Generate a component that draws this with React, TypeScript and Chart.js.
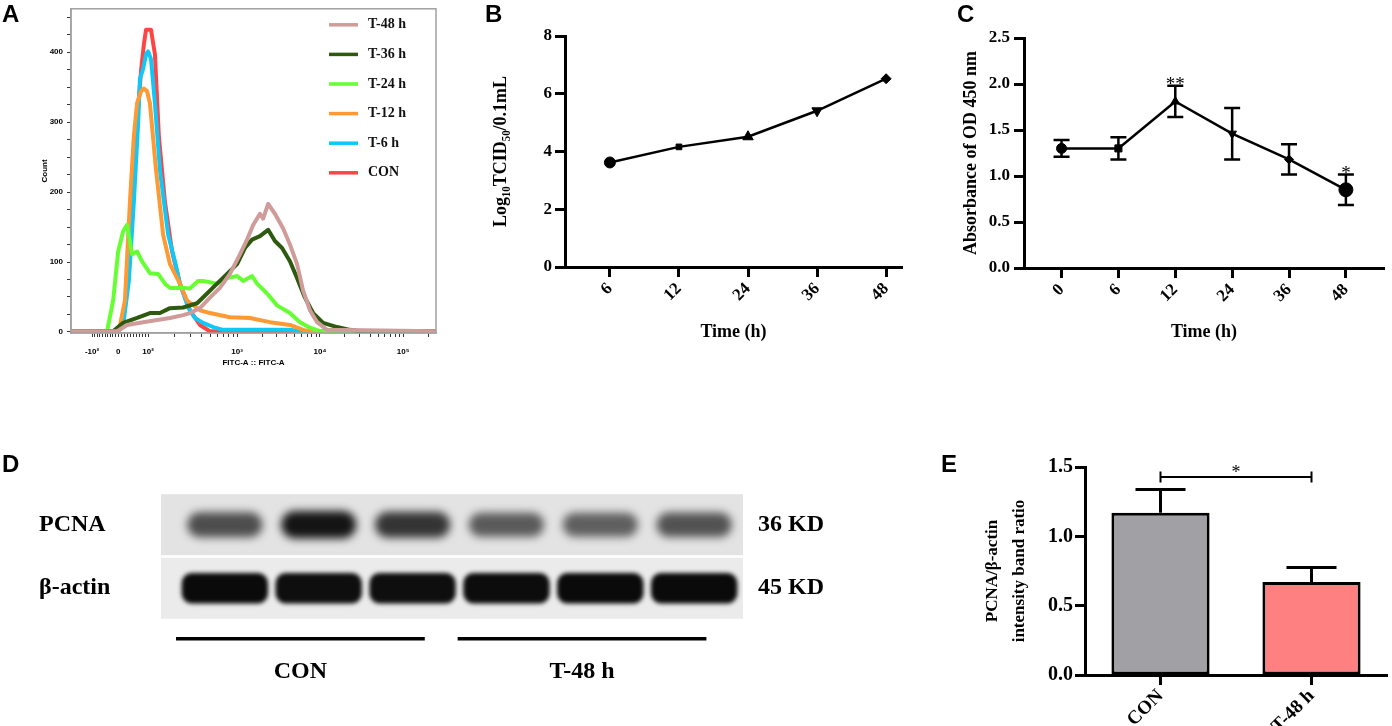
import React, { useEffect, useRef } from 'react';
import { Chart, registerables } from 'chart.js';

Chart.register(...registerables);

const serif = "'Liberation Serif', 'Times New Roman', serif";
const sans = "'Liberation Sans', Arial, sans-serif";

// ---------- A: FITC histogram (x in logicle display channels 0-1022)
const fitcTickChannels = [59, 132, 216, 465, 697, 930];
const fitcTickLabels = ['-10²', '0', '10²', '10³', '10⁴', '10⁵'];
const histLabels = ['T-48 h', 'T-36 h', 'T-24 h', 'T-12 h', 'T-6 h', 'CON'];
const histColors = ['#d09c9a', '#2e5a10', '#66ff33', '#ff9933', '#10c8f8', '#ff4444'];

const histT48 = [[0, 1], [129, 1], [157, 10], [202, 14], [241, 17], [277, 20], [314, 24], [333, 27], [361, 34], [389, 49], [417, 63], [445, 83], [473, 111], [493, 132], [510, 153], [529, 169], [538, 162], [552, 183], [571, 169], [594, 148], [613, 125], [633, 97], [650, 59], [669, 31], [689, 14], [717, 3], [1022, 1]];
const histT36 = [[0, 1], [118, 1], [146, 13], [185, 20], [221, 27], [249, 27], [277, 34], [314, 35], [353, 41], [381, 55], [409, 69], [437, 83], [465, 97], [487, 120], [507, 132], [529, 137], [552, 146], [571, 130], [591, 120], [613, 101], [633, 77], [655, 49], [678, 27], [706, 13], [745, 7], [781, 3], [809, 1], [1022, 1]];
const histT24 = [[0, 1], [101, 1], [118, 45], [132, 115], [146, 144], [157, 153], [171, 111], [185, 115], [199, 101], [221, 84], [244, 83], [263, 69], [277, 63], [314, 63], [333, 62], [356, 73], [370, 73], [409, 69], [437, 77], [465, 80], [482, 73], [507, 80], [521, 69], [549, 55], [577, 38], [613, 27], [641, 14], [669, 6], [697, 1], [1022, 1]];
const histT12 = [[0, 1], [134, 1], [151, 45], [165, 186], [176, 280], [185, 327], [196, 344], [204, 348], [213, 344], [221, 327], [238, 232], [258, 139], [277, 97], [305, 69], [325, 45], [361, 31], [389, 27], [445, 21], [501, 20], [557, 14], [613, 10], [650, 3], [669, 1], [1022, 1]];
const histT6 = [[0, 1], [132, 1], [148, 17], [162, 73], [176, 186], [188, 298], [193, 362], [202, 376], [210, 397], [216, 401], [224, 390], [235, 327], [249, 232], [272, 139], [291, 101], [305, 69], [328, 35], [347, 20], [370, 13], [403, 6], [426, 3], [613, 3], [641, 1], [1022, 1]];
const histCon = [[0, 1], [129, 1], [146, 17], [160, 73], [174, 186], [185, 298], [196, 373], [204, 411], [210, 432], [224, 432], [235, 397], [246, 280], [263, 186], [283, 115], [305, 69], [333, 31], [361, 10], [389, 1], [1022, 1]];

// ---------- B: virus titer
const timeB = ['6', '12', '24', '36', '48'];
const titerB = [3.62, 4.16, 4.51, 5.41, 6.52];

// ---------- C: CCK-8 absorbance
const timeC = ['0', '6', '12', '24', '36', '48'];
const odMean = [1.3, 1.3, 1.81, 1.46, 1.18, 0.85];
const odSd = [0.09, 0.12, 0.17, 0.28, 0.165, 0.165];
const odSig = ['', '', '**', '', '', '*'];

// ---------- D: western blot band densities
const laneGroups = ['CON', 'CON', 'CON', 'T-48 h', 'T-48 h', 'T-48 h'];
const pcnaDensity = [0.65, 0.95, 0.78, 0.58, 0.55, 0.62];
const actinDensity = [1, 0.98, 0.98, 0.99, 1, 1];
const blotRows = ['β-actin', 'PCNA'];
const blotWeights = ['45 KD', '36 KD'];

// ---------- E: PCNA / β-actin ratio
const groupsE = ['CON', 'T-48 h'];
const ratioMean = [1.17, 0.67];
const ratioSd = [0.167, 0.105];
const ratioSig = '*';

const bold = (size: number, family = serif) => ({ family, size, weight: 'bold' as const });

// minor ticks for the logicle axis
function fitcMinorTicks() {
  const out: number[] = [];
  const [cm, c0, c2] = [fitcTickChannels[0], fitcTickChannels[1], fitcTickChannels[2]];
  for (let v = -90; v <= 90; v += 10) {
    if (v === 0) continue;
    out.push(v < 0 ? c0 + (v / 100) * (c0 - cm) : c0 + (v / 100) * (c2 - c0));
  }
  const dec = fitcTickChannels.slice(2);
  for (let d = 0; d < dec.length; d++) {
    const span = d < dec.length - 1 ? dec[d + 1] - dec[d] : dec[d] - dec[d - 1];
    for (let m = 2; m <= 9; m++) {
      const c = dec[d] + Math.log10(m) * span;
      if (c < 1022) out.push(c);
    }
  }
  return out;
}

const framePlugin = {
  id: 'frame',
  afterDraw(chart: any) {
    const { ctx, chartArea: a } = chart;
    ctx.save();
    ctx.strokeStyle = '#a0a0a0';
    ctx.lineWidth = 1.5;
    ctx.strokeRect(a.left, a.top, a.right - a.left, a.bottom - a.top);
    ctx.restore();
  },
};

const histLegendPlugin = {
  id: 'histLegend',
  afterDraw(chart: any) {
    const { ctx, chartArea: a } = chart;
    ctx.save();
    chart.data.datasets.forEach((ds: any, i: number) => {
      const y = a.top + 16 + i * 29.6;
      ctx.strokeStyle = ds.borderColor;
      ctx.lineWidth = 3.5;
      ctx.beginPath();
      ctx.moveTo(a.left + 258, y);
      ctx.lineTo(a.left + 287, y);
      ctx.stroke();
      ctx.fillStyle = '#111';
      ctx.font = `bold 14px ${serif}`;
      ctx.textBaseline = 'middle';
      ctx.fillText(ds.label, a.left + 297, y);
    });
    ctx.restore();
  },
};

function histConfig() {
  const series = [histT48, histT36, histT24, histT12, histT6, histCon];
  const allTicks = [...fitcTickChannels, ...fitcMinorTicks()].sort((p, q) => p - q);
  return {
    type: 'line',
    data: {
      datasets: series.map((s, i) => ({
        label: histLabels[i],
        data: s.map(([x, y]) => ({ x, y })),
        borderColor: histColors[i],
        borderWidth: 4,
        pointRadius: 0,
        tension: 0,
        borderJoinStyle: 'round',
      })),
    },
    options: {
      responsive: false,
      animation: false,
      layout: { padding: { top: 4, right: 4, left: 0, bottom: 0 } },
      plugins: { legend: { display: false }, tooltip: { enabled: false } },
      scales: {
        x: {
          type: 'linear',
          min: 0,
          max: 1022,
          afterBuildTicks: (s: any) => { s.ticks = allTicks.map((v) => ({ value: v })); },
          afterFit: (s: any) => { s.height = 37; },
          ticks: {
            autoSkip: false,
            maxRotation: 0,
            padding: 10,
            color: '#000',
            font: bold(8, sans),
            callback: (v: number) => {
              const i = fitcTickChannels.indexOf(v);
              return i < 0 ? '' : fitcTickLabels[i];
            },
          },
          grid: { drawOnChartArea: false, tickLength: 4, color: '#333', tickWidth: 1 },
          border: { color: '#a0a0a0', width: 1.5 },
          title: { display: true, text: 'FITC-A :: FITC-A', color: '#000', font: bold(8, sans), padding: { top: 0, bottom: 2 } },
        },
        y: {
          min: -1.5,
          max: 462,
          afterBuildTicks: (s: any) => {
            const t = [];
            for (let v = 0; v <= 450; v += 25) t.push({ value: v });
            s.ticks = t;
          },
          afterFit: (s: any) => { s.width = 71; },
          ticks: {
            autoSkip: false,
            padding: 4,
            color: '#000',
            font: bold(8, sans),
            callback: (v: number) => (v % 100 === 0 ? String(v) : ''),
          },
          grid: { drawOnChartArea: false, tickLength: 4, color: '#333', tickWidth: 1 },
          border: { color: '#a0a0a0', width: 1.5 },
          title: { display: true, text: 'Count', color: '#000', font: bold(8, sans), padding: { top: 40, bottom: 0 } },
        },
      },
    },
    plugins: [framePlugin, histLegendPlugin],
  };
}

const blackAxis = (tickLen: number) => ({
  grid: { drawOnChartArea: false, tickLength: tickLen, tickWidth: 3, color: '#000' },
  border: { color: '#000', width: 3 },
});

function titerConfig() {
  return {
    type: 'line',
    data: {
      datasets: [{
        data: titerB.map((v, i) => ({ x: i, y: v })),
        borderColor: '#000',
        borderWidth: 2.5,
        pointStyle: ['circle', 'rect', 'triangle', 'triangle', 'rectRot'],
        pointRotation: [0, 0, 0, 180, 0],
        pointRadius: [5.5, 4, 6, 6, 5],
        pointBackgroundColor: '#000',
        pointBorderColor: '#000',
        pointBorderWidth: 1,
        tension: 0,
      }],
    },
    options: {
      responsive: false,
      animation: false,
      layout: { padding: { top: 36, right: 8, left: 0, bottom: 0 } },
      plugins: { legend: { display: false }, tooltip: { enabled: false } },
      scales: {
        x: {
          type: 'linear',
          min: -0.65,
          max: 4.23,
          afterBuildTicks: (s: any) => { s.ticks = timeB.map((_, i) => ({ value: i })); },
          afterFit: (s: any) => { s.height = 103; },
          ticks: { autoSkip: false, minRotation: 45, maxRotation: 45, padding: 2, color: '#000', font: bold(17), callback: (v: number) => timeB[v] },
          ...blackAxis(10),
          title: { display: true, text: 'Time (h)', color: '#000', font: bold(18), padding: { top: 0, bottom: 27 } },
        },
        y: {
          min: 0,
          max: 8,
          afterFit: (s: any) => { s.width = 125; },
          ticks: { stepSize: 2, padding: 3, color: '#000', font: bold(17) },
          ...blackAxis(10),
          title: { display: true, text: 'Log₁₀TCID₅₀/0.1mL', color: '#000', font: bold(18), padding: { top: 51, bottom: 0 } },
        },
      },
    },
  };
}

const odErrorPlugin = {
  id: 'odError',
  afterDatasetsDraw(chart: any) {
    const { ctx, scales: { x, y } } = chart;
    ctx.save();
    ctx.strokeStyle = '#000';
    ctx.lineWidth = 2.5;
    odMean.forEach((m, i) => {
      const px = x.getPixelForValue(i);
      const top = y.getPixelForValue(m + odSd[i]);
      const bot = y.getPixelForValue(m - odSd[i]);
      ctx.beginPath();
      ctx.moveTo(px, top); ctx.lineTo(px, bot);
      ctx.moveTo(px - 8, top); ctx.lineTo(px + 8, top);
      ctx.moveTo(px - 8, bot); ctx.lineTo(px + 8, bot);
      ctx.stroke();
      if (odSig[i]) {
        ctx.fillStyle = '#000';
        ctx.font = `19px ${serif}`;
        ctx.textAlign = 'center';
        ctx.textBaseline = 'alphabetic';
        ctx.fillText(odSig[i], px, top + 4);
      }
    });
    ctx.restore();
  },
};

function odConfig() {
  return {
    type: 'line',
    data: {
      datasets: [{
        data: odMean.map((v, i) => ({ x: i, y: v })),
        borderColor: '#000',
        borderWidth: 2.5,
        pointStyle: ['circle', 'rect', 'triangle', 'triangle', 'rectRot', 'circle'],
        pointRotation: [0, 0, 0, 180, 0, 0],
        pointRadius: [5, 5, 5, 5, 4.5, 7],
        pointBackgroundColor: '#000',
        pointBorderColor: '#000',
        pointBorderWidth: 1,
        tension: 0,
      }],
    },
    options: {
      responsive: false,
      animation: false,
      layout: { padding: { top: 38, right: 2, left: 0, bottom: 0 } },
      plugins: { legend: { display: false }, tooltip: { enabled: false } },
      scales: {
        x: {
          type: 'linear',
          min: -0.66,
          max: 5.67,
          afterBuildTicks: (s: any) => { s.ticks = timeC.map((_, i) => ({ value: i })); },
          afterFit: (s: any) => { s.height = 102; },
          ticks: { autoSkip: false, minRotation: 45, maxRotation: 45, padding: 2, color: '#000', font: bold(17), callback: (v: number) => timeC[v] },
          ...blackAxis(10),
          title: { display: true, text: 'Time (h)', color: '#000', font: bold(18), padding: { top: 0, bottom: 27 } },
        },
        y: {
          min: 0,
          max: 2.5,
          afterFit: (s: any) => { s.width = 104; },
          ticks: { stepSize: 0.5, padding: 4, color: '#000', font: bold(17), callback: (v: number) => v.toFixed(1) },
          ...blackAxis(10),
          title: { display: true, text: 'Absorbance of OD 450 nm', color: '#000', font: bold(18), padding: { top: 41, bottom: 0 } },
        },
      },
    },
    plugins: [odErrorPlugin],
  };
}

const bandGrey = (d: number) => {
  const g = Math.round(200 - 190 * d);
  return `rgb(${g},${g},${g})`;
};

const blotPlugin = {
  id: 'blot',
  beforeDatasetsDraw(chart: any) {
    const { ctx, chartArea: a, scales: { y } } = chart;
    ctx.save();
    blotRows.forEach((_, r) => {
      const t = y.getPixelForValue(r + 0.48);
      const b = y.getPixelForValue(r - 0.48);
      ctx.fillStyle = r === 1 ? '#e3e3e3' : '#ebebeb';
      ctx.fillRect(a.left, t, a.right - a.left, b - t);
    });
    ctx.restore();
  },
  beforeDatasetDraw(chart: any, args: any) {
    chart.ctx.save();
    chart.ctx.filter = args.index === 0 ? 'blur(4px)' : 'blur(2px)';
  },
  afterDatasetDraw(chart: any) {
    chart.ctx.restore();
  },
  afterDraw(chart: any) {
    const { ctx, chartArea: a, scales: { x } } = chart;
    ctx.save();
    let start = 0;
    for (let i = 1; i <= laneGroups.length; i++) {
      if (i === laneGroups.length || laneGroups[i] !== laneGroups[start]) {
        const x1 = x.getPixelForValue(start - 0.52);
        const x2 = x.getPixelForValue(i - 1 + 0.13);
        ctx.fillStyle = '#000';
        ctx.fillRect(x1, a.bottom + 17, x2 - x1, 3.5);
        ctx.font = `bold 24px ${serif}`;
        ctx.textAlign = 'center';
        ctx.textBaseline = 'middle';
        ctx.fillText(laneGroups[start], (x1 + x2) / 2, a.bottom + 52);
        start = i;
      }
    }
    ctx.restore();
  },
};

function blotConfig() {
  return {
    type: 'bar',
    data: {
      datasets: [
        {
          data: pcnaDensity.map((d, i) => ({ x: i, y: [1 - 0.15 - 0.07 * d, 1 + 0.15 + 0.07 * d] })),
          backgroundColor: pcnaDensity.map(bandGrey),
          grouped: false,
          barPercentage: 0.8,
          categoryPercentage: 1,
          borderRadius: 14,
          borderSkipped: false,
          borderWidth: 0,
        },
        {
          data: actinDensity.map((d, i) => ({ x: i, y: [-0.24, 0.24] })),
          backgroundColor: actinDensity.map(bandGrey),
          grouped: false,
          barPercentage: 0.92,
          categoryPercentage: 1,
          borderRadius: 10,
          borderSkipped: false,
          borderWidth: 0,
        },
      ],
    },
    options: {
      responsive: false,
      animation: false,
      layout: { padding: { top: 53, right: 0, left: 39, bottom: 106 } },
      plugins: { legend: { display: false }, tooltip: { enabled: false } },
      scales: {
        x: {
          type: 'linear',
          min: -0.68,
          max: 5.52,
          offset: false,
          display: false,
          afterBuildTicks: (s: any) => { s.ticks = laneGroups.map((_, i) => ({ value: i })); },
        },
        y: {
          min: -0.5,
          max: 1.5,
          afterBuildTicks: (s: any) => { s.ticks = blotRows.map((_, i) => ({ value: i })); },
          afterFit: (s: any) => { s.width = 122; },
          ticks: { crossAlign: 'far', color: '#000', font: bold(24), callback: (v: number) => blotRows[v] },
          grid: { display: false, drawTicks: false },
          border: { display: false },
        },
        y2: {
          position: 'right',
          min: -0.5,
          max: 1.5,
          afterBuildTicks: (s: any) => { s.ticks = blotWeights.map((_, i) => ({ value: i })); },
          afterFit: (s: any) => { s.width = 117; },
          ticks: { padding: 15, color: '#000', font: bold(24), callback: (v: number) => blotWeights[v] },
          grid: { display: false, drawTicks: false },
          border: { display: false },
        },
      },
    },
    plugins: [blotPlugin],
  };
}

const ratioPlugin = {
  id: 'ratioError',
  afterDatasetsDraw(chart: any) {
    const { ctx, scales: { y } } = chart;
    const bars = chart.getDatasetMeta(0).data;
    ctx.save();
    ctx.strokeStyle = '#000';
    ctx.fillStyle = '#000';
    ctx.lineWidth = 3;
    const tops: number[] = [];
    bars.forEach((bar: any, i: number) => {
      const hi = ratioMean[i] + ratioSd[i];
      tops.push(hi);
      const top = y.getPixelForValue(hi);
      ctx.beginPath();
      ctx.moveTo(bar.x, y.getPixelForValue(ratioMean[i]));
      ctx.lineTo(bar.x, top);
      ctx.moveTo(bar.x - 25, top);
      ctx.lineTo(bar.x + 25, top);
      ctx.stroke();
    });
    const level = y.getPixelForValue(Math.max(...tops) + 0.09);
    const x1 = bars[0].x;
    const x2 = bars[bars.length - 1].x;
    ctx.lineWidth = 2;
    ctx.beginPath();
    ctx.moveTo(x1, level); ctx.lineTo(x2, level);
    ctx.moveTo(x1, level - 5.5); ctx.lineTo(x1, level + 5.5);
    ctx.moveTo(x2, level - 5.5); ctx.lineTo(x2, level + 5.5);
    ctx.stroke();
    ctx.font = `18px ${serif}`;
    ctx.textAlign = 'center';
    ctx.textBaseline = 'alphabetic';
    ctx.fillText(ratioSig, (x1 + x2) / 2, level + 1);
    ctx.restore();
  },
};

function ratioConfig() {
  return {
    type: 'bar',
    data: {
      labels: groupsE,
      datasets: [{
        data: ratioMean,
        backgroundColor: ['#a1a0a5', '#ff8080'],
        borderColor: '#000',
        borderWidth: 3,
        borderSkipped: false,
        barPercentage: 0.65,
        categoryPercentage: 1,
      }],
    },
    options: {
      responsive: false,
      animation: false,
      layout: { padding: { top: 27, right: 5, left: 0, bottom: 0 } },
      plugins: { legend: { display: false }, tooltip: { enabled: false } },
      scales: {
        x: {
          afterFit: (s: any) => { s.height = 51; },
          ticks: { minRotation: 45, maxRotation: 45, padding: 0, color: '#000', font: bold(19) },
          grid: { drawOnChartArea: false, offset: false, tickLength: 10, tickWidth: 3, color: '#000' },
          border: { color: '#000', width: 3 },
        },
        y: {
          min: 0,
          max: 1.5,
          afterFit: (s: any) => { s.width = 145; },
          ticks: { stepSize: 0.5, padding: 2, color: '#000', font: bold(20), callback: (v: number) => v.toFixed(1) },
          ...blackAxis(10),
          title: {
            display: true,
            text: ['PCNA/β-actin', 'intensity band ratio'],
            color: '#000',
            font: { ...bold(17), lineHeight: 1.6 },
            padding: { top: 39, bottom: 0 },
          },
        },
      },
    },
    plugins: [ratioPlugin],
  };
}

const ChartBox: React.FC<{ left: number; top: number; width: number; height: number; make: () => any }> = (props) => {
  const ref = useRef<HTMLCanvasElement>(null);
  useEffect(() => {
    if (!ref.current) return;
    const chart = new Chart(ref.current, props.make());
    return () => chart.destroy();
  }, [props.make]);
  return (
    <canvas
      ref={ref}
      width={props.width}
      height={props.height}
      style={{ position: 'absolute', left: props.left, top: props.top, width: props.width, height: props.height }}
    />
  );
};

const letterStyle = (left: number, top: number): React.CSSProperties => ({
  position: 'absolute', left, top, font: `bold 24px ${sans}`, lineHeight: '24px', color: '#000',
});

export default function App() {
  return (
    <div style={{ position: 'absolute', left: 0, top: 0, width: 1392, height: 726, background: '#fff', overflow: 'hidden' }}>
      <ChartBox left={0} top={0} width={440} height={370} make={histConfig} />
      <ChartBox left={440} top={0} width={470} height={370} make={titerConfig} />
      <ChartBox left={920} top={0} width={472} height={370} make={odConfig} />
      <ChartBox left={0} top={440} width={860} height={286} make={blotConfig} />
      <ChartBox left={940} top={440} width={452} height={286} make={ratioConfig} />
      <div style={letterStyle(2, 2)}>A</div>
      <div style={letterStyle(485, 2)}>B</div>
      <div style={letterStyle(957, 2)}>C</div>
      <div style={letterStyle(2, 452)}>D</div>
      <div style={letterStyle(941, 452)}>E</div>
    </div>
  );
}
